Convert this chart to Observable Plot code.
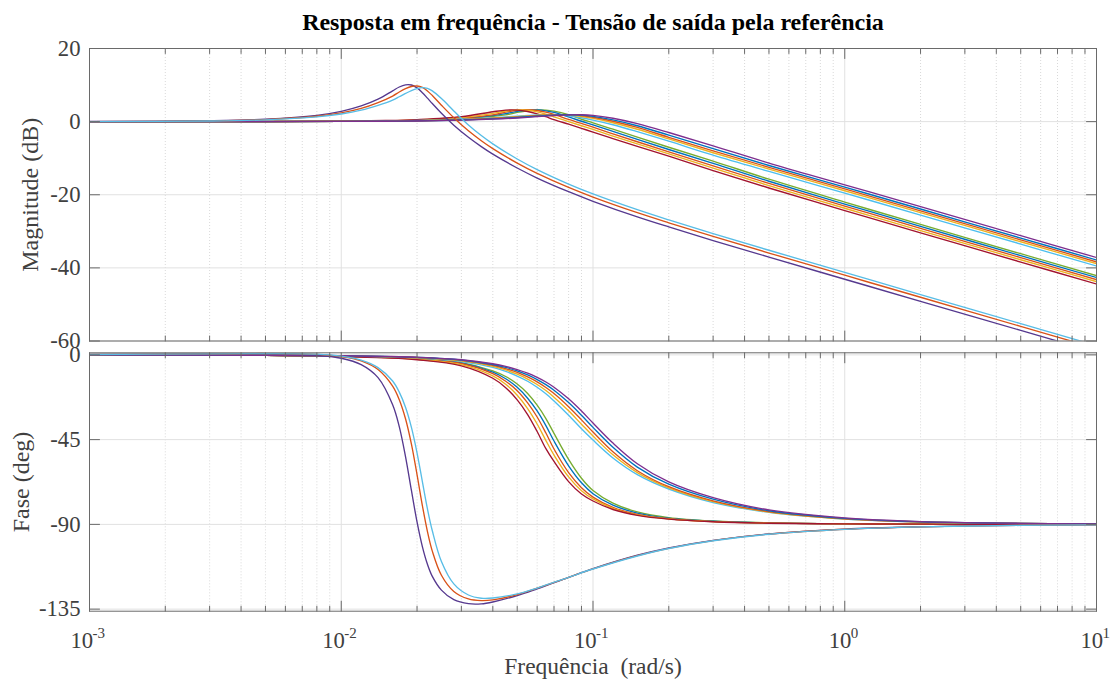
<!DOCTYPE html>
<html>
<head>
<meta charset="utf-8">
<script src="https://cdn.jsdelivr.net/npm/d3@7"></script>
<script src="https://cdn.jsdelivr.net/npm/@observablehq/plot@0.6"></script>
<style>
  body { margin: 0; background: #fff; }
  #chart { position: relative; width: 1120px; height: 684px; background: #fff; overflow: hidden; }
  #chart svg { position: absolute; left: 0; overflow: visible; }
</style>
</head>
<body>
<div id="chart"></div>
<script>
// ---------- tick labels / texts ----------
const titleText = "Resposta em frequência - Tensão de saída pela referência";
const magLabel = "Magnitude (dB)";
const phaseLabel = "Fase (deg)";
const xLabel = "Frequência  (rad/s)";
const magTicks = [-60, -40, -20, 0, 20];
const phaseTicks = [-135, -90, -45, 0];
const xTickValues = [0.001, 0.01, 0.1, 1, 10];
const xTickExponents = ["-3", "-2", "-1", "0", "1"];

// ---------- group A (resonant curves) ----------
const freqA = [0.001, 0.003, 0.005, 0.008, 0.01, 0.012, 0.014, 0.016, 0.017, 0.018, 0.019, 0.02, 0.021, 0.022, 0.023, 0.025, 0.028, 0.032, 0.036, 0.04, 0.05, 0.06, 0.08, 0.1, 0.15, 0.2, 0.3, 0.5, 1, 2, 5, 10];
const magA1 = [0.03, 0.23, 0.65, 1.73, 2.82, 4.3, 6.14, 8.42, 9.47, 10.06, 10.01, 9.23, 7.92, 6.42, 4.95, 2.28, -0.98, -4.29, -6.84, -8.9, -12.69, -15.43, -19.17, -21.78, -26.06, -28.81, -32.52, -37.05, -43.11, -49.14, -57.1, -63.12];
const phaseA1 = [0.2, 0.5, 0.5, -0.2, -1.8, -5.2, -12.1, -26.5, -38.1, -54.0, -72.0, -88.7, -101.8, -111.2, -117.6, -124.9, -130.0, -132.1, -132.2, -131.2, -127.8, -124.2, -118.1, -113.5, -106.4, -102.5, -98.5, -95.1, -92.5, -91.3, -90.5, -90.3];
const magA2 = [0.02, 0.2, 0.55, 1.47, 2.39, 3.61, 5.2, 7.0, 8.1, 9.0, 9.6, 9.75, 9.35, 8.4, 7.15, 4.5, 1.07, -2.51, -5.22, -7.38, -11.35, -14.16, -18.01, -20.64, -24.91, -27.67, -31.4, -35.94, -42.01, -48.04, -56.0, -62.02];
const phaseA2 = [0.2, 0.5, 0.7, 0.3, -0.9, -3.2, -7.8, -16.6, -23.8, -33.9, -47.4, -63.6, -80.0, -93.8, -104.2, -117.0, -125.6, -129.6, -130.5, -130.1, -127.3, -123.9, -118.1, -113.6, -106.6, -102.7, -98.6, -95.2, -92.6, -91.3, -90.5, -90.25];
const magA3 = [0.02, 0.17, 0.49, 1.29, 2.08, 3.12, 4.46, 5.9, 6.8, 7.7, 8.5, 9.05, 9.3, 9.1, 8.4, 6.3, 2.93, -0.91, -3.8, -6.08, -10.23, -13.13, -17.08, -19.77, -24.09, -26.89, -30.63, -35.18, -41.25, -47.29, -55.25, -61.27];
const phaseA3 = [0.2, 0.5, 0.7, 0.4, -0.7, -2.8, -6.8, -13.9, -19.8, -27.8, -38.5, -52.0, -67.3, -81.8, -93.4, -109.7, -121.6, -127.5, -129.2, -129.1, -126.9, -123.8, -118.1, -113.7, -106.8, -102.8, -98.7, -95.25, -92.65, -91.35, -90.54, -90.27];

// ---------- group B (bands) ----------
const freqB = [0.001, 0.005, 0.01, 0.015, 0.02, 0.03, 0.04, 0.045, 0.05, 0.055, 0.06, 0.065, 0.07, 0.08, 0.09, 0.1, 0.12, 0.15, 0.2, 0.3, 0.5, 1, 2, 5, 10];
// lower band
const magL1 = [0, 0.02, 0.08, 0.18, 0.33, 0.78, 1.44, 1.83, 2.51, 2.97, 3.19, 3.15, 2.87, 1.89, 0.65, -0.34, -2.07, -4.26, -7.01, -10.79, -15.75, -22.0, -28.13, -36.13, -42.14];
const magL2 = [0, 0.03, 0.09, 0.2, 0.36, 0.85, 1.63, 2.19, 2.80, 3.15, 3.20, 2.96, 2.51, 1.28, 0.10, -0.89, -2.67, -4.84, -7.62, -11.4, -16.31, -22.54, -28.65, -36.65, -42.65];
const magL3 = [0, 0.03, 0.1, 0.22, 0.4, 0.95, 1.85, 2.6, 3.1, 3.25, 3.05, 2.6, 2.0, 0.6, -0.5, -1.5, -3.35, -5.5, -8.3, -12.1, -16.9, -23.1, -29.2, -37.2, -43.2];
const magL4 = [0, 0.03, 0.12, 0.25, 0.48, 1.14, 2.27, 2.91, 3.20, 3.10, 2.68, 2.06, 1.32, -0.01, -1.13, -2.14, -3.95, -6.08, -8.83, -12.73, -17.5, -23.69, -29.79, -37.78, -43.78];
const magL5 = [0, 0.04, 0.13, 0.3, 0.56, 1.35, 2.70, 3.15, 3.15, 2.76, 2.12, 1.34, 0.55, -0.70, -1.82, -2.88, -4.64, -6.75, -9.44, -13.41, -18.15, -24.33, -30.42, -38.41, -44.41];
const phaseL1 = [0, -0.3, -0.7, -1.3, -2.0, -4.1, -8.5, -11.5, -15.5, -20.5, -26.7, -33.8, -41.7, -55.5, -65.5, -72.0, -78.7, -83.4, -86.4, -88.2, -89.2, -89.65, -89.8, -89.93, -89.97];
const phaseL2 = [0, -0.3, -0.8, -1.3, -2.1, -4.3, -9.2, -12.7, -17.2, -23.0, -29.8, -37.6, -45.75, -58.9, -67.9, -73.7, -79.8, -84.0, -86.7, -88.35, -89.25, -89.7, -89.85, -89.95, -90];
const phaseL3 = [0, -0.3, -0.8, -1.4, -2.2, -4.6, -10, -14, -19, -25.5, -33, -41.5, -50, -62.5, -70.5, -75.5, -81, -84.7, -87, -88.5, -89.3, -89.7, -89.85, -89.95, -90];
const phaseL4 = [0, -0.3, -0.8, -1.5, -2.4, -5.2, -11.2, -15.6, -21.4, -28.5, -36.7, -45.5, -53.2, -64.8, -72.1, -76.5, -81.5, -85.0, -87.1, -88.55, -89.35, -89.72, -89.86, -89.95, -90];
const phaseL5 = [0, -0.3, -0.9, -1.6, -2.6, -5.8, -12.4, -17.4, -23.9, -31.7, -40.7, -49.8, -56.6, -67.3, -73.9, -77.6, -82.1, -85.2, -87.2, -88.6, -89.4, -89.75, -89.87, -89.95, -90];
// upper band
const magU1 = [0, 0.02, 0.05, 0.1, 0.18, 0.40, 0.68, 0.83, 1.0, 1.18, 1.35, 1.52, 1.66, 1.85, 1.89, 1.71, 0.92, -0.55, -2.97, -6.63, -11.34, -17.28, -23.26, -31.2, -37.17];
const magU2 = [0, 0.02, 0.055, 0.12, 0.2, 0.45, 0.77, 0.95, 1.14, 1.33, 1.51, 1.66, 1.77, 1.88, 1.78, 1.45, 0.47, -1.13, -3.7, -7.38, -12.0, -17.91, -23.9, -31.85, -37.85];
const magU3 = [0, 0.02, 0.06, 0.13, 0.22, 0.5, 0.85, 1.05, 1.25, 1.45, 1.62, 1.75, 1.85, 1.9, 1.65, 1.2, 0.1, -1.6, -4.3, -8.0, -12.5, -18.4, -24.4, -32.35, -38.35];
const magU4 = [0, 0.02, 0.065, 0.14, 0.25, 0.56, 0.94, 1.16, 1.37, 1.56, 1.71, 1.83, 1.87, 1.78, 1.41, 0.87, -0.3, -2.08, -4.74, -8.51, -12.99, -18.9, -24.9, -32.85, -38.85];
const magU5 = [0, 0.025, 0.07, 0.16, 0.30, 0.65, 1.08, 1.30, 1.52, 1.69, 1.82, 1.87, 1.9, 1.59, 1.05, 0.42, -0.86, -2.75, -5.35, -9.17, -13.63, -19.55, -25.55, -33.5, -39.5];
const phaseU1 = [0, -0.2, -0.45, -0.81, -1.25, -2.57, -4.73, -6.1, -7.82, -9.74, -11.99, -14.41, -17.19, -23.35, -29.83, -36.18, -46.83, -57.8, -67.48, -75.83, -82.34, -86.58, -88.51, -89.43, -89.77];
const phaseU2 = [0, -0.2, -0.47, -0.85, -1.33, -2.73, -5.1, -6.68, -8.53, -10.68, -13.1, -15.8, -18.78, -25.34, -32.08, -38.5, -49.07, -59.58, -68.69, -76.64, -82.76, -86.78, -88.6, -89.47, -89.78];
const phaseU3 = [0, -0.2, -0.5, -0.9, -1.4, -2.9, -5.5, -7.3, -9.3, -11.7, -14.3, -17.3, -20.5, -27.5, -34.5, -41, -51.5, -61.5, -70, -77.5, -83.2, -87, -88.7, -89.5, -89.8];
const phaseU4 = [0, -0.21, -0.53, -0.95, -1.52, -3.21, -6.07, -8.01, -10.25, -12.83, -15.72, -18.94, -22.44, -29.71, -36.81, -43.08, -53.08, -62.51, -70.59, -77.93, -83.41, -87.1, -88.73, -89.52, -89.82];
const phaseU5 = [0, -0.22, -0.56, -1.0, -1.64, -3.53, -6.67, -8.76, -11.25, -14.02, -17.22, -20.69, -24.47, -32.04, -39.25, -45.26, -54.74, -63.57, -71.22, -78.37, -83.63, -87.19, -88.77, -89.53, -89.83];

// ---------- styling ----------
const C = {blue: "#0072BD", orange: "#D95319", yellow: "#EDB120", purple: "#7E2F8E", green: "#77AC30", cyan: "#4DBEEE", red: "#A2142F"};
const FONT = "'Liberation Serif', 'Times New Roman', Times, serif";
const frameColor = "#6a6a6a";
const textColor = "#404040";
const gridMajor = "#e1e1e1";
const gridMinor = "#cfcfcf";
const lineWidth = 1.35;

const series = [
  {freq: freqB, mag: magL1, phase: phaseL1, color: C.green},
  {freq: freqB, mag: magL2, phase: phaseL2, color: C.blue},
  {freq: freqB, mag: magL3, phase: phaseL3, color: C.orange},
  {freq: freqB, mag: magL4, phase: phaseL4, color: C.yellow},
  {freq: freqB, mag: magL5, phase: phaseL5, color: C.red},
  {freq: freqB, mag: magU5, phase: phaseU5, color: C.cyan},
  {freq: freqB, mag: magU4, phase: phaseU4, color: C.yellow},
  {freq: freqB, mag: magU3, phase: phaseU3, color: C.orange},
  {freq: freqB, mag: magU2, phase: phaseU2, color: C.blue},
  {freq: freqB, mag: magU1, phase: phaseU1, color: C.purple},
  {freq: freqA, mag: magA1, phase: phaseA1, color: "#56398f"},
  {freq: freqA, mag: magA2, phase: phaseA2, color: C.orange},
  {freq: freqA, mag: magA3, phase: phaseA3, color: "#58bde6"}
];

const minorX = [];
for (const d of [0.001, 0.01, 0.1, 1]) for (let k = 2; k <= 9; k++) minorX.push(d * k);

const tickShape = {draw(ctx, l) { ctx.moveTo(0, 0); ctx.lineTo(0, -l); }};
function edgeTicks(yMaj) {
  const base = {anchor: "start", shape: tickShape, stroke: frameColor, strokeWidth: 1};
  return [
    Plot.vector(xTickValues, {...base, x: d => d, frameAnchor: "bottom", rotate: 0, length: 10}),
    Plot.vector(xTickValues, {...base, x: d => d, frameAnchor: "top", rotate: 180, length: 10}),
    Plot.vector(minorX, {...base, x: d => d, frameAnchor: "bottom", rotate: 0, length: 5}),
    Plot.vector(minorX, {...base, x: d => d, frameAnchor: "top", rotate: 180, length: 5}),
    Plot.vector(yMaj, {...base, y: d => d, frameAnchor: "left", rotate: 90, length: 10}),
    Plot.vector(yMaj, {...base, y: d => d, frameAnchor: "right", rotate: -90, length: 10})
  ];
}
function grid(yMaj) {
  return [
    Plot.ruleX(minorX, {x: d => d, stroke: gridMinor, strokeWidth: 0.8, strokeDasharray: "1,2"}),
    Plot.ruleX(xTickValues, {x: d => d, stroke: gridMajor, strokeWidth: 1}),
    Plot.ruleY(yMaj, {y: d => d, stroke: gridMajor, strokeWidth: 1})
  ];
}
function curves(key) {
  return series.map(s => Plot.line(
    s.freq.map((f, i) => ({f, v: s[key][i]})),
    {x: "f", y: "v", stroke: s.color, strokeWidth: lineWidth, curve: "catmull-rom", clip: true}
  ));
}
function yTickLabels(vals) {
  return Plot.text(vals, {y: d => d, text: d => String(d), frameAnchor: "left", textAnchor: "end", dx: -9, fontSize: 22.7, fill: textColor});
}

const common = {
  width: 1120, marginLeft: 89, marginRight: 24,
  style: {fontFamily: FONT, background: "transparent", overflow: "visible"}
};

const topChart = Plot.plot({
  ...common,
  height: 352, marginTop: 48, marginBottom: 11.5,
  x: {type: "log", domain: [1e-3, 10], axis: null},
  y: {domain: [-60, 20], axis: null},
  marks: [
    ...grid(magTicks),
    ...curves("mag"),
    ...edgeTicks(magTicks),
    Plot.frame({stroke: frameColor, strokeWidth: 1}),
    yTickLabels(magTicks),
    Plot.text([magLabel], {text: d => d, frameAnchor: "left", rotate: -90, dx: -52, lineAnchor: "bottom", textAnchor: "middle", fontSize: 24, fill: textColor}),
    Plot.text([titleText], {text: d => d, frameAnchor: "top", dy: -18.7, lineAnchor: "bottom", textAnchor: "middle", fontSize: 24, fontWeight: "bold", fill: "#000"})
  ]
});

const xLabelMarks = xTickValues.flatMap((v, i) => {
  const e = xTickExponents[i];
  const expW = e.startsWith("-") ? 16 : 10;
  const total = 22 + expW;
  return [
    Plot.text([v], {x: d => d, text: () => "10", frameAnchor: "bottom", textAnchor: "start", lineAnchor: "bottom", dx: -total / 2, dy: 36.5, fontSize: 22.7, fill: textColor}),
    Plot.text([v], {x: d => d, text: () => e, frameAnchor: "bottom", textAnchor: "start", lineAnchor: "bottom", dx: -total / 2 + 22, dy: 26.5, fontSize: 15, fill: textColor})
  ];
});

const bottomChart = Plot.plot({
  ...common,
  height: 338, marginTop: 6.3, marginBottom: 73.3,
  x: {type: "log", domain: [1e-3, 10], axis: null},
  y: {domain: [-136.1, 1.1], axis: null},
  marks: [
    ...grid(phaseTicks),
    ...curves("phase"),
    ...edgeTicks(phaseTicks),
    Plot.frame({stroke: frameColor, strokeWidth: 1}),
    yTickLabels(phaseTicks),
    ...xLabelMarks,
    Plot.text([phaseLabel], {text: d => d, frameAnchor: "left", rotate: -90, dx: -60.5, lineAnchor: "bottom", textAnchor: "middle", fontSize: 24, fill: textColor}),
    Plot.text([xLabel], {text: d => d, frameAnchor: "bottom", dy: 62.5, lineAnchor: "bottom", textAnchor: "middle", fontSize: 23.5, fill: textColor})
  ]
});

topChart.style.top = "0px";
bottomChart.style.top = "346px";
const host = document.getElementById("chart");
host.appendChild(topChart);
host.appendChild(bottomChart);
</script>
</body>
</html>
